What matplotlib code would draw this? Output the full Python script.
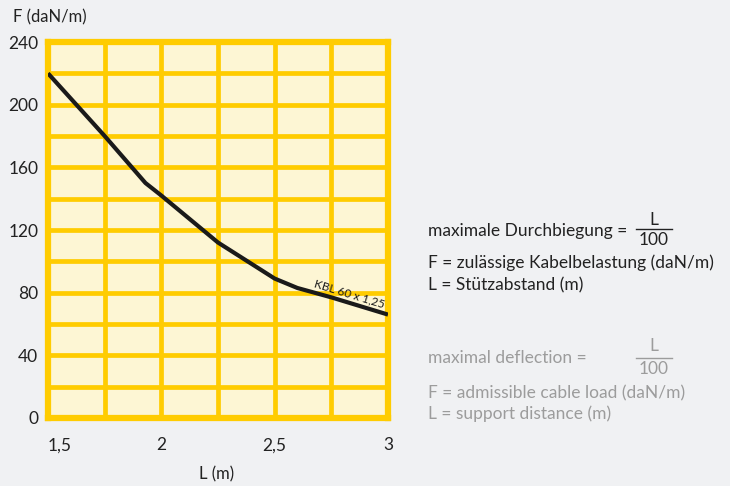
import matplotlib
matplotlib.use("Agg")
import matplotlib.pyplot as plt
from matplotlib.ticker import MultipleLocator, FixedLocator

plt.rcParams['font.family'] = ['Lato', 'DejaVu Sans']

# Stützabstand L (m) und zulässige Belastung F (daN/m)
L_werte = [1.5, 1.75, 1.93, 2.0, 2.25, 2.5, 2.6, 2.75, 3.0]
F_werte = [220, 180, 150, 142, 112, 89, 83, 77, 66]
x_ticks = [1.5, 2, 2.5, 3]
x_labels = ['1,5', '2', '2,5', '3']
y_ticks = [0, 40, 80, 120, 160, 200, 240]

W, H = 730, 486
gold = '#ffcc00'
bg = '#f0f1f3'

fig = plt.figure(figsize=(W / 100, H / 100), dpi=100, facecolor=bg)
ax = fig.add_axes([48 / W, 1 - 418 / H, 340 / W, 376 / H])
ax.set_facecolor('#fdf6d4')

ax.plot(L_werte, F_werte, color='#1a1a1a', lw=3, solid_capstyle='butt', zorder=3)

ax.set_xlim(1.5, 3)
ax.set_ylim(0, 240)
ax.xaxis.set_major_locator(FixedLocator(x_ticks))
ax.set_xticklabels(x_labels)
ax.yaxis.set_major_locator(FixedLocator(y_ticks))
ax.xaxis.set_minor_locator(MultipleLocator(0.25))
ax.yaxis.set_minor_locator(MultipleLocator(20))
ax.grid(which='both', color=gold, lw=3.4, zorder=1)
ax.set_axisbelow(True)
ax.tick_params(which='both', length=0, labelsize=12.5, colors='#222222')
ax.tick_params(axis='x', pad=14)
ax.tick_params(axis='y', pad=7)
ax.get_xticklabels()[0].set_horizontalalignment('left')
for s in ax.spines.values():
    s.set_color(gold)
    s.set_linewidth(4.5)

ax.text(2.83, 79, 'KBL 60 x 1,25', rotation=-17, fontsize=8.5, color='#1a1a1a',
        ha='center', va='center', zorder=4)

def px(x, y):
    return x / W, 1 - y / H

fig.text(*px(217, 474), 'L (m)', fontsize=12, color='#222222', ha='center', va='center')
fig.text(*px(13, 17), 'F (daN/m)', fontsize=12, color='#222222', ha='left', va='center')

# Erläuterungen rechts
dunkel = '#222222'
grau = '#9c9c9c'
fs = 12.5
fig.text(*px(428, 231), 'maximale Durchbiegung =', fontsize=fs, color=dunkel, va='center')
fig.text(*px(654, 220), 'L', fontsize=fs, color=dunkel, ha='center', va='center')
fig.text(*px(654, 240), '100', fontsize=fs, color=dunkel, ha='center', va='center')
fig.add_artist(plt.Line2D([636 / W, 672 / W], [1 - 229 / H] * 2, color=dunkel, lw=1))
fig.text(*px(428, 263), 'F = zulässige Kabelbelastung (daN/m)', fontsize=fs, color=dunkel, va='center')
fig.text(*px(428, 285), 'L = Stützabstand (m)', fontsize=fs, color=dunkel, va='center')

fig.text(*px(428, 358), 'maximal deflection =', fontsize=fs, color=grau, va='center')
fig.text(*px(654, 346), 'L', fontsize=fs, color=grau, ha='center', va='center')
fig.text(*px(654, 369), '100', fontsize=fs, color=grau, ha='center', va='center')
fig.add_artist(plt.Line2D([636 / W, 672 / W], [1 - 358 / H] * 2, color=grau, lw=1))
fig.text(*px(428, 393), 'F = admissible cable load (daN/m)', fontsize=fs, color=grau, va='center')
fig.text(*px(428, 414), 'L = support distance (m)', fontsize=fs, color=grau, va='center')

fig.savefig('out.png', dpi=100, facecolor=bg)
